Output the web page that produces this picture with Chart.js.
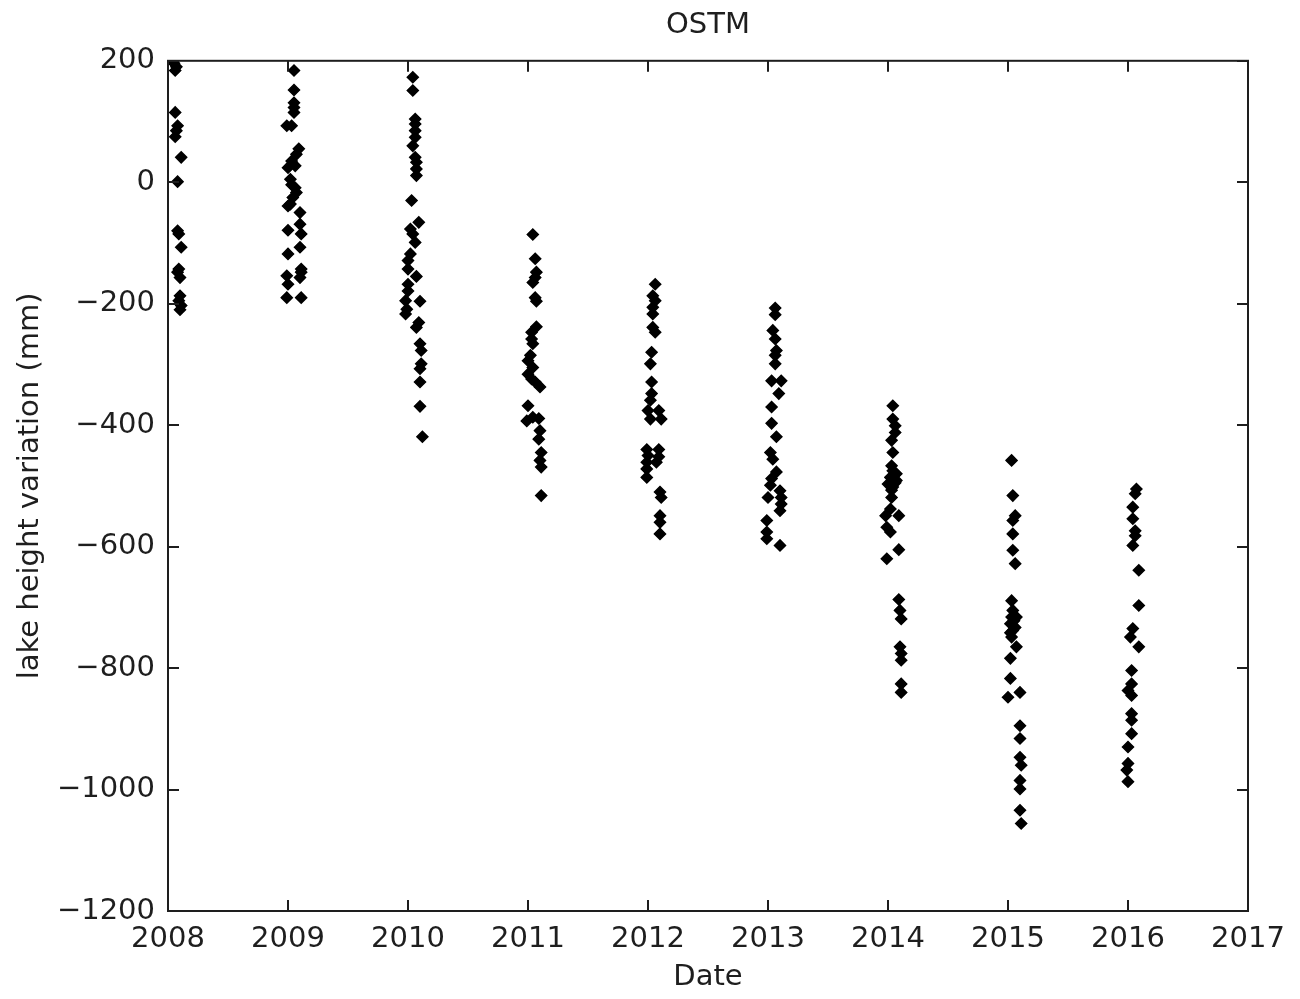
<!DOCTYPE html>
<html>
<head>
<meta charset="utf-8">
<title>OSTM</title>
<script src="https://cdn.jsdelivr.net/npm/chart.js@4.4.1/dist/chart.umd.min.js"></script>
<style>
  html, body { margin: 0; padding: 0; background: #fff; }
  #wrap { width: 1300px; height: 999px; }
</style>
</head>
<body>
<div id="wrap"><canvas id="chart" width="1300" height="999"></canvas></div>
<script>
// === DATA ===
const dates2008 = [2008.05, 2008.07, 2008.06, 2008.06, 2008.08, 2008.07, 2008.06, 2008.11, 2008.08, 2008.08,
  2008.09, 2008.11, 2008.09, 2008.08, 2008.10, 2008.10, 2008.09, 2008.11, 2008.10];
const heights2008 = [196, 190, 184, 115, 93, 85, 75, 41, 1, -80,
  -85, -107, -143, -148, -157, -187, -195, -203, -210];

const dates2009 = [2009.05, 2009.05, 2009.05, 2009.05, 2009.05, 2008.99, 2009.03, 2009.09, 2009.07, 2009.00,
  2009.06, 2009.03, 2009.02, 2009.03, 2009.06, 2009.07, 2009.04, 2009.02, 2009.00, 2009.10,
  2009.10, 2009.00, 2009.11, 2009.10, 2009.00, 2009.11, 2009.11, 2009.10, 2008.99, 2009.00,
  2008.99, 2009.11];
const heights2009 = [184, 152, 131, 123, 115, 93, 93, 55, 46, 24,
  27, 35, 5, -4, -9, -17, -25, -36, -39, -50,
  -69, -79, -85, -107, -118, -143, -148, -157, -154, -168,
  -190, -190];

const dates2010 = [2010.04, 2010.04, 2010.06, 2010.06, 2010.06, 2010.06, 2010.04, 2010.06, 2010.07, 2010.07,
  2010.07, 2010.03, 2010.09, 2010.02, 2010.04, 2010.06, 2010.02, 2010.00, 2010.00, 2010.07,
  2010.00, 2010.00, 2009.98, 2010.10, 2009.99, 2009.98, 2010.09, 2010.07, 2010.10, 2010.11,
  2010.11, 2010.10, 2010.10, 2010.10, 2010.12];
const heights2010 = [173, 151, 104, 96, 85, 74, 60, 41, 33, 22,
  11, -30, -66, -77, -85, -99, -118, -129, -143, -155,
  -168, -179, -195, -196, -209, -217, -231, -239, -266, -277,
  -299, -307, -329, -369, -419];

const dates2011 = [2011.04, 2011.06, 2011.07, 2011.06, 2011.04, 2011.06, 2011.07, 2011.07, 2011.03, 2011.03,
  2011.04, 2011.02, 2011.00, 2011.04, 2011.00, 2011.03, 2011.06, 2011.10, 2011.00, 2010.99,
  2011.04, 2011.09, 2011.10, 2011.09, 2011.11, 2011.10, 2011.11, 2011.11];
const heights2011 = [-86, -126, -148, -157, -165, -190, -196, -238, -247, -258,
  -266, -285, -294, -305, -316, -324, -329, -337, -368, -393,
  -387, -389, -409, -423, -445, -458, -469, -516];

const dates2012 = [2012.06, 2012.04, 2012.06, 2012.04, 2012.04, 2012.04, 2012.06, 2012.03, 2012.02, 2012.03,
  2012.03, 2012.02, 2012.00, 2012.09, 2012.02, 2012.11, 2011.99, 2012.09, 2012.00, 2012.09,
  2011.99, 2012.07, 2011.99, 2011.99, 2012.10, 2012.11, 2012.10, 2012.10, 2012.10];
const heights2012 = [-168, -187, -195, -206, -217, -239, -247, -280, -299, -329,
  -348, -359, -376, -376, -390, -390, -440, -440, -450, -452,
  -461, -461, -472, -486, -510, -519, -549, -560, -579];

const dates2013 = [2013.06, 2013.06, 2013.04, 2013.06, 2013.07, 2013.06, 2013.06, 2013.03, 2013.11, 2013.09,
  2013.03, 2013.03, 2013.07, 2013.02, 2013.04, 2013.07, 2013.03, 2013.02, 2013.10, 2013.00,
  2013.11, 2013.11, 2013.10, 2012.99, 2012.99, 2012.99, 2013.10];
const heights2013 = [-207, -218, -244, -258, -277, -285, -299, -327, -327, -348,
  -370, -397, -419, -445, -456, -477, -488, -499, -508, -519,
  -519, -530, -541, -557, -576, -587, -598];

const dates2014 = [2014.04, 2014.04, 2014.06, 2014.06, 2014.03, 2014.04, 2014.03, 2014.04, 2014.07, 2014.02,
  2014.07, 2014.00, 2014.04, 2014.03, 2014.02, 2013.98, 2014.09, 2013.99, 2014.02, 2014.09,
  2013.99, 2014.09, 2014.10, 2014.11, 2014.10, 2014.11, 2014.11, 2014.11, 2014.11, 2014.05,
  2014.06, 2014.03];
const heights2014 = [-368, -390, -401, -412, -425, -445, -467, -475, -480, -486,
  -491, -497, -502, -519, -538, -549, -549, -568, -576, -605,
  -620, -687, -705, -719, -765, -776, -787, -826, -840, -483,
  -495, -507];

const dates2015 = [2015.03, 2015.04, 2015.06, 2015.04, 2015.04, 2015.04, 2015.06, 2015.03, 2015.04, 2015.03,
  2015.07, 2015.02, 2015.04, 2015.03, 2015.07, 2015.02, 2015.02, 2015.00, 2015.10, 2015.10,
  2015.10, 2015.10, 2015.11, 2015.10, 2015.10, 2015.10, 2015.11, 2015.05, 2015.06, 2015.02];
const heights2015 = [-458, -516, -549, -557, -579, -606, -628, -689, -705, -716,
  -716, -727, -738, -749, -765, -784, -817, -848, -840, -895,
  -916, -947, -960, -985, -999, -1034, -1056, -722, -733, -742];

const dates2016 = [2016.07, 2016.06, 2016.04, 2016.04, 2016.06, 2016.06, 2016.04, 2016.09, 2016.09, 2016.04,
  2016.02, 2016.09, 2016.03, 2016.03, 2016.00, 2016.03, 2016.03, 2016.03, 2016.03, 2016.00,
  2016.00, 2015.99, 2016.00];
const heights2016 = [-505, -513, -535, -554, -574, -582, -598, -639, -697, -735,
  -749, -765, -804, -826, -837, -845, -875, -886, -908, -930,
  -957, -968, -987];

const xTicks = [2008, 2009, 2010, 2011, 2012, 2013, 2014, 2015, 2016, 2017];
const yTicks = [-1200, -1000, -800, -600, -400, -200, 0, 200];

// === PUNTOS ===
const groups = [
  [dates2008, heights2008], [dates2009, heights2009], [dates2010, heights2010],
  [dates2011, heights2011], [dates2012, heights2012], [dates2013, heights2013],
  [dates2014, heights2014], [dates2015, heights2015], [dates2016, heights2016]
];
const points = [];
groups.forEach(([xs, ys]) => {
  xs.forEach((x, i) => points.push({ x, y: ys[i] }));
});

const FONT = "'DejaVu Sans', sans-serif";
const INK = "#1e1e1e";
const fmt = (v) => (v < 0 ? "\u2212" + Math.abs(v) : String(v));

// marco + ticks hacia dentro (estilo MATLAB)
const boxPlugin = {
  id: "box",
  afterDraw(chart) {
    const { ctx, chartArea: a, scales } = chart;
    const len = 11;
    ctx.save();
    ctx.strokeStyle = INK;
    ctx.lineWidth = 2;
    ctx.strokeRect(a.left, a.top, a.right - a.left, a.bottom - a.top);
    ctx.beginPath();
    xTicks.forEach((t) => {
      const px = Math.round(scales.x.getPixelForValue(t));
      ctx.moveTo(px, a.bottom); ctx.lineTo(px, a.bottom - len);
      ctx.moveTo(px, a.top); ctx.lineTo(px, a.top + len);
    });
    yTicks.forEach((t) => {
      const py = Math.round(scales.y.getPixelForValue(t));
      ctx.moveTo(a.left, py); ctx.lineTo(a.left + len, py);
      ctx.moveTo(a.right, py); ctx.lineTo(a.right - len, py);
    });
    ctx.stroke();
    ctx.restore();
  }
};

new Chart(document.getElementById("chart"), {
  type: "scatter",
  data: {
    datasets: [{
      data: points,
      pointStyle: "rectRot",
      pointRadius: 5.5,
      backgroundColor: "#000",
      borderColor: "#000",
      borderWidth: 1.5
    }]
  },
  options: {
    responsive: false,
    animation: false,
    devicePixelRatio: 1,
    layout: { padding: { left: 0, right: 52, top: 0, bottom: 0 } },
    plugins: {
      legend: { display: false },
      tooltip: { enabled: false },
      title: {
        display: true,
        fullSize: false,
        text: "OSTM",
        color: INK,
        font: { family: FONT, size: 29, weight: "normal" },
        padding: { top: 8, bottom: 18 }
      }
    },
    scales: {
      x: {
        type: "linear",
        min: 2008,
        max: 2017,
        afterBuildTicks: (s) => { s.ticks = xTicks.map((v) => ({ value: v })); },
        afterFit: (s) => { s.height = 88; },
        grid: { display: false, drawTicks: false },
        border: { display: false },
        ticks: {
          color: INK,
          font: { family: FONT, size: 29 },
          padding: 11,
          maxRotation: 0,
          autoSkip: false,
          callback: (v) => String(v)
        },
        title: {
          display: true,
          text: "Date",
          color: INK,
          font: { family: FONT, size: 29 },
          padding: { top: 0, bottom: 4 }
        }
      },
      y: {
        min: -1200,
        max: 200,
        afterBuildTicks: (s) => { s.ticks = yTicks.map((v) => ({ value: v })); },
        afterFit: (s) => { s.width = 168; },
        grid: { display: false, drawTicks: false },
        border: { display: false },
        ticks: {
          color: INK,
          font: { family: FONT, size: 29 },
          padding: 13,
          autoSkip: false,
          callback: (v) => fmt(v)
        },
        title: {
          display: true,
          text: "lake height variation (mm)",
          color: INK,
          font: { family: FONT, size: 29 },
          padding: { top: 13, bottom: 0 }
        }
      }
    }
  },
  plugins: [boxPlugin]
});
</script>
</body>
</html>
